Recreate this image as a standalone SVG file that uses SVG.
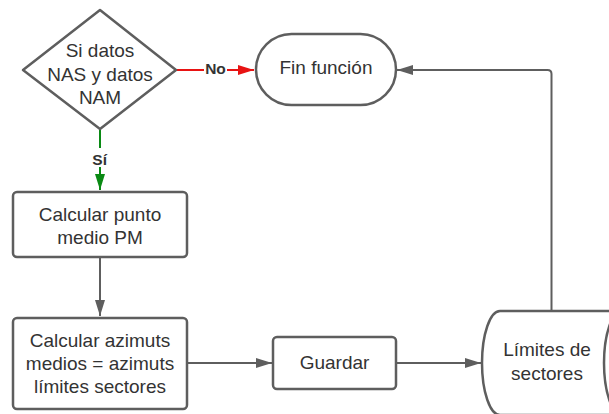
<svg xmlns="http://www.w3.org/2000/svg" width="609" height="414" viewBox="0 0 609 414">
  <style>
    .shape { fill: #ffffff; stroke: #5e5e5e; stroke-width: 2.5; }
    .label { font-family: "Liberation Sans", Arial, sans-serif; font-size: 19px; fill: #333333; text-anchor: middle; }
    .edge { fill: none; stroke-width: 2; }
    .gray { stroke: #5e5e5e; }
    .red { stroke: #e81313; }
    .green { stroke: #0a8a14; }
    .tag { font-family: "Liberation Sans", Arial, sans-serif; font-size: 15.5px; font-weight: bold; fill: #333333; text-anchor: middle; }
  </style>
  <defs>
    <marker id="arrow-gray" markerUnits="userSpaceOnUse" markerWidth="16" markerHeight="11" refX="16" refY="5.5" orient="auto">
      <path d="M0,0.5 L16,5.5 L0,10.5 Z" fill="#5e5e5e"/>
    </marker>
    <marker id="arrow-red" markerUnits="userSpaceOnUse" markerWidth="16" markerHeight="11" refX="16" refY="5.5" orient="auto">
      <path d="M0,0.5 L16,5.5 L0,10.5 Z" fill="#e81313"/>
    </marker>
    <marker id="arrow-green" markerUnits="userSpaceOnUse" markerWidth="16" markerHeight="11" refX="16" refY="5.5" orient="auto">
      <path d="M0,0.5 L16,5.5 L0,10.5 Z" fill="#0a8a14"/>
    </marker>
  </defs>

  <rect width="609" height="414" fill="#ffffff"/>

  <!-- connectors -->
  <g id="connectors">
    <line class="edge red" x1="176" y1="70" x2="254" y2="70" marker-end="url(#arrow-red)"/>
    <rect x="204" y="60" width="23" height="16" fill="#ffffff"/>
    <text class="tag" x="215.5" y="73.5">No</text>

    <line class="edge green" x1="100" y1="129" x2="100" y2="190" marker-end="url(#arrow-green)"/>
    <rect x="91" y="148" width="18" height="19" fill="#ffffff"/>
    <text class="tag" x="99.7" y="164.5">Sí</text>

    <line class="edge gray" x1="100" y1="257" x2="100" y2="316" marker-end="url(#arrow-gray)"/>
    <line class="edge gray" x1="187" y1="363" x2="272" y2="363" marker-end="url(#arrow-gray)"/>
    <line class="edge gray" x1="396" y1="363" x2="481" y2="363" marker-end="url(#arrow-gray)"/>
    <path class="edge gray" d="M551.5 311 L551.5 74 Q551.5 70 547.5 70 L397 70" marker-end="url(#arrow-gray)"/>
  </g>

  <!-- decision -->
  <g id="decision">
    <polygon class="shape" points="100,10 176,70 100,129 23,70" stroke-linejoin="round"/>
    <text class="label" x="100" y="57">Si datos</text>
    <text class="label" x="100" y="80.5">NAS y datos</text>
    <text class="label" x="100" y="104">NAM</text>
  </g>

  <!-- end terminal -->
  <g id="fin-funcion">
    <rect class="shape" x="256" y="34" width="140" height="71" rx="35.5" ry="35.5"/>
    <text class="label" x="326" y="74">Fin función</text>
  </g>

  <!-- midpoint step -->
  <g id="calcular-punto">
    <rect class="shape" x="13" y="192" width="174" height="65" rx="4" ry="4"/>
    <text class="label" x="100" y="220.5">Calcular punto</text>
    <text class="label" x="100" y="244">medio PM</text>
  </g>

  <!-- azimuth step -->
  <g id="calcular-azimuts">
    <rect class="shape" x="13" y="318" width="174" height="91" rx="4" ry="4"/>
    <text class="label" x="100" y="346.5">Calcular azimuts</text>
    <text class="label" x="100" y="369.5">medios = azimuts</text>
    <text class="label" x="100" y="392.5">límites sectores</text>
  </g>

  <!-- save step -->
  <g id="guardar">
    <rect class="shape" x="273" y="337" width="123" height="52" rx="4" ry="4"/>
    <text class="label" x="334.5" y="368.5">Guardar</text>
  </g>

  <!-- stored data -->
  <g id="limites-sectores">
    <path class="shape" d="M500 311 L622 311 A18 52 0 0 0 604 363 A18 52 0 0 0 622 415 L500 415 A18 52 0 0 1 482 363 A18 52 0 0 1 500 311 Z"/>
    <text class="label" x="547" y="356">Límites de</text>
    <text class="label" x="547" y="379.5">sectores</text>
  </g>
</svg>
